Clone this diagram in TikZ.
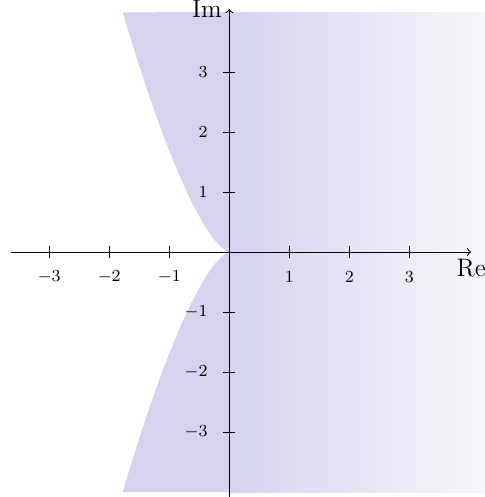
\documentclass[tikz,border=0pt]{standalone}
\usetikzlibrary{calc}
\definecolor{regcol}{RGB}{213,211,238}
\definecolor{regend}{RGB}{247,246,252}
\tikzset{
  axisline/.style={->, line width=0.5pt},
  tickmark/.style={line width=0.5pt},
  ticklabel/.style={font=\footnotesize, inner sep=1pt},
  axislabel/.style={font=\large}
}
\begin{document}
\begin{tikzpicture}
\useasboundingbox (-3.82,-4.08) rectangle (4.25,4.2);
% region
\fill[regcol] plot[domain=-1.5874:1.5874, samples=120] ({-0.705*\x*\x},{\x*\x*\x}) -- (0,4) -- (0,-4) -- cycle;
\shade[left color=regcol, right color=regend] (0,-4) rectangle (4.25,4);
% axes
\coordinate (xs) at (-3.63,0);
\coordinate (xe) at (4.03,0);
\coordinate (ys) at (0,-4.1);
\coordinate (ye) at (0,4.05);
\draw[axisline] (xs) -- (xe);
\draw[axisline] (ys) -- (ye);
\node[axislabel, below] (re) at (xe) {Re};
\node[axislabel, left] (im) at (ye) {Im};
% ticks
\foreach \i in {-3,-2,-1,1,2,3} {
  \draw[tickmark] (\i,0.1) -- (\i,-0.1);
  \node[ticklabel] (xl\i) at (\i,-0.42) {$\i$};
  \draw[tickmark] (0.1,\i) -- (-0.1,\i);
  \node[ticklabel, anchor=east] (yl\i) at (-0.32,\i) {$\i$};
}
\end{tikzpicture}
\end{document}
